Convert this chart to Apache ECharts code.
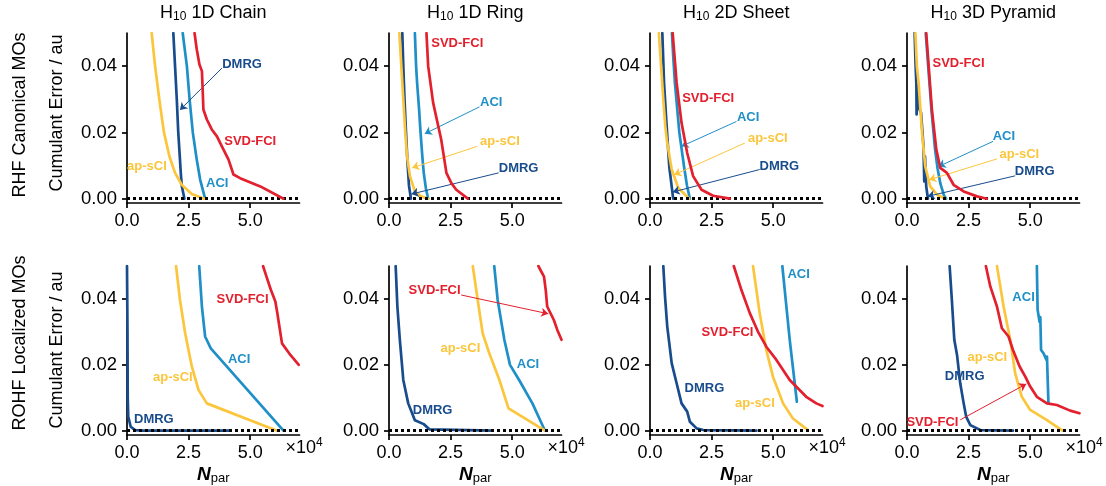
<!DOCTYPE html>
<html>
<head>
<meta charset="utf-8">
<script src="https://cdn.jsdelivr.net/npm/echarts@6.0.0/dist/echarts.min.js"></script>
<style>
  html, body { margin: 0; padding: 0; background: #fff; }
  #chart { width: 1106px; height: 486px; }
</style>
</head>
<body>
<div id="chart"></div>
<script>
// Cumulant error (au) against number of parameters N_par, per geometry and orbital basis.

const panelTitles = ['1D Chain', '1D Ring', '2D Sheet', '3D Pyramid'];
const rowNames = ['RHF Canonical MOs', 'ROHF Localized MOs'];
const methods = ['DMRG', 'ACI', 'ap-sCI', 'SVD-FCI'];
const xTickValues = [0, 2.5, 5];
const yTickValues = [0, 0.02, 0.04];

// ---- RHF canonical MOs ----
const chainRhfDmrg = [[1.88,0.050],[1.95,0.040],[2.02,0.030],[2.08,0.020],[2.14,0.013],[2.18,0.008],[2.22,0.004],[2.33,0]];
const chainRhfAci = [[2.26,0.050],[2.43,0.040],[2.54,0.030],[2.67,0.020],[2.83,0.0118],[2.97,0.0057],[3.17,0]];
const chainRhfApsci = [[1.00,0.050],[1.14,0.040],[1.31,0.030],[1.50,0.020],[1.72,0.0128],[1.95,0.0078],[2.22,0.0042],[2.63,0.0014],[3.13,0]];
const chainRhfSvd = [[2.74,0.050],[2.83,0.0451],[2.94,0.0405],[3.04,0.0385],[3.06,0.035],[3.10,0.0269],[3.24,0.0239],[3.44,0.0209],[3.65,0.0188],[3.85,0.0158],[4.12,0.0118],[4.32,0.0073],[4.59,0.0062],[5.41,0.0037],[6.35,0]];

const ringRhfDmrg = [[0.54,0.050],[0.58,0.040],[0.63,0.030],[0.69,0.020],[0.75,0.011],[0.81,0.004],[0.89,0]];
const ringRhfAci = [[1.05,0.050],[1.10,0.040],[1.14,0.035],[1.22,0.027],[1.28,0.020],[1.35,0.013],[1.41,0.0078],[1.50,0.003],[1.59,0]];
const ringRhfApsci = [[0.42,0.050],[0.50,0.040],[0.58,0.030],[0.66,0.020],[0.73,0.013],[0.85,0.0068],[1.05,0.0022],[1.30,0.0007],[1.59,0]];
const ringRhfSvd = [[1.52,0.050],[1.59,0.040],[1.79,0.029],[2.12,0.0178],[2.33,0.0078],[2.53,0.0047],[2.73,0.0027],[3.20,0]];

const sheetRhfDmrg = [[0.50,0.050],[0.57,0.035],[0.65,0.025],[0.78,0.0098],[0.88,0.0037],[0.94,0]];
const sheetRhfAci = [[0.89,0.050],[0.95,0.042],[1.01,0.035],[1.19,0.020],[1.38,0.0098],[1.50,0.004],[1.62,0]];
const sheetRhfApsci = [[0.36,0.050],[0.45,0.040],[0.54,0.030],[0.62,0.022],[0.68,0.0178],[0.88,0.0088],[1.15,0.0032],[1.59,0]];
const sheetRhfSvd = [[0.92,0.050],[1.08,0.035],[1.28,0.0229],[1.51,0.0138],[1.75,0.0068],[2.09,0.0027],[2.56,0.0009],[3.24,0]];

const pyramidRhfDmrg = [[0.31,0.050],[0.35,0.040],[0.38,0.0345],[0.39,0.0254],[0.43,0.0342],[0.51,0.0269],[0.57,0.0259],[0.62,0.0264],[0.67,0.0158],[0.70,0.0052],[0.73,0.0128],[0.78,0.0037],[0.85,0]];
const pyramidRhfAci = [[0.76,0.050],[0.86,0.040],[0.99,0.027],[1.14,0.0148],[1.24,0.0092],[1.35,0.0047],[1.50,0.001],[1.59,0]];
const pyramidRhfApsci = [[0.34,0.050],[0.40,0.040],[0.47,0.035],[0.61,0.0199],[0.74,0.0098],[0.94,0.0037],[1.22,0.0012],[1.55,0]];
const pyramidRhfSvd = [[0.78,0.050],[0.88,0.040],[1.01,0.0269],[1.19,0.0148],[1.35,0.0093],[1.62,0.0078],[1.89,0.0042],[2.30,0.0022],[2.84,0.0007],[3.24,0]];

// ---- ROHF localized MOs (N_par in units of 10^4) ----
const chainRohfDmrg = [[0.00,0.050],[0.02,0.030],[0.03,0.010],[0.05,0.0043],[0.15,0.0012],[0.33,0.0002],[0.60,0],[4.20,0]];
const chainRohfAci = [[2.93,0.050],[3.04,0.0377],[3.17,0.0286],[3.40,0.025],[6.35,0]];
const chainRohfApsci = [[1.99,0.050],[2.15,0.0397],[2.36,0.0296],[2.63,0.0195],[2.90,0.0124],[3.24,0.0083],[6.09,0]];
const chainRohfSvd = [[5.52,0.050],[5.68,0.0463],[5.84,0.0427],[6.02,0.0392],[6.09,0.0362],[6.29,0.0265],[6.63,0.023],[6.97,0.020]];

const ringRohfDmrg = [[0.27,0.050],[0.34,0.0377],[0.44,0.0276],[0.58,0.0154],[0.78,0.0083],[1.05,0.0032],[1.41,0.002],[1.65,0.0004],[1.72,0],[4.21,0]];
const ringRohfAci = [[4.27,0.050],[4.41,0.0397],[4.68,0.0276],[4.91,0.020],[5.28,0.0154],[5.82,0.0083],[6.33,0]];
const ringRohfApsci = [[3.40,0.050],[3.60,0.0397],[3.80,0.0296],[4.07,0.0235],[4.48,0.0154],[4.85,0.0068],[6.33,0]];
const ringRohfSvd = [[6.06,0.050],[6.29,0.0468],[6.36,0.0427],[6.42,0.0377],[6.69,0.0336],[6.83,0.0306],[7.00,0.0276]];

const sheetRohfDmrg = [[0.54,0.050],[0.61,0.0407],[0.70,0.0316],[0.88,0.0205],[1.08,0.0144],[1.28,0.0083],[1.51,0.0058],[1.62,0.0027],[1.89,0.0007],[2.16,0.0002],[4.32,0]];
const sheetRohfAci = [[5.37,0.050],[5.67,0.0276],[5.96,0.0088]];
const sheetRohfApsci = [[4.18,0.050],[4.45,0.0357],[4.72,0.0245],[4.99,0.0164],[5.40,0.0083],[5.80,0.0037],[6.41,0.0002]];
const sheetRohfSvd = [[3.40,0.050],[3.71,0.0427],[4.05,0.0357],[4.38,0.0301],[4.72,0.0255],[5.13,0.0215],[5.67,0.0154],[6.34,0.0103],[6.75,0.0083],[7.00,0.0075]];

const pyramidRohfDmrg = [[1.73,0.050],[1.82,0.0397],[1.92,0.0276],[2.03,0.023],[2.16,0.0144],[2.30,0.0083],[2.40,0.0043],[2.57,0.0017],[2.97,0.0002],[4.30,0]];
const pyramidRohfAci = [[5.27,0.050],[5.30,0.0367],[5.38,0.033],[5.41,0.0345],[5.44,0.0245],[5.54,0.0235],[5.66,0.0215],[5.68,0.0225],[5.74,0.0083]];
const pyramidRohfApsci = [[3.65,0.050],[3.92,0.0377],[4.19,0.0276],[4.39,0.0174],[4.66,0.0103],[5.00,0.0063],[5.68,0.0032],[6.31,0]];
const pyramidRohfSvd = [[3.20,0.050],[3.38,0.0438],[3.65,0.0377],[3.85,0.0311],[4.12,0.0286],[4.30,0.0245],[4.57,0.0195],[4.80,0.0164],[5.00,0.0134],[5.27,0.0103],[5.68,0.0083],[6.08,0.0078],[6.62,0.0061],[7.00,0.0053]];

// ---- method labels (label centre, optional leader arrow), in axis units ----
const chainRhfNotes = [
  {m:'DMRG', at:[4.67,0.0404], from:[3.85,0.0394], to:[2.15,0.0268]},
  {m:'SVD-FCI', at:[5.00,0.0173]}, {m:'ACI', at:[3.66,0.0047]}, {m:'ap-sCI', at:[0.81,0.0096]}];
const ringRhfNotes = [
  {m:'SVD-FCI', at:[2.77,0.0468]},
  {m:'ACI', at:[4.15,0.0292], from:[3.67,0.0277], to:[1.45,0.0196]},
  {m:'ap-sCI', at:[4.50,0.0173], from:[3.58,0.0158], to:[0.94,0.0093]},
  {m:'DMRG', at:[5.26,0.0090], from:[4.45,0.0078], to:[0.91,0.0014]}];
const sheetRhfNotes = [
  {m:'SVD-FCI', at:[2.36,0.0304]},
  {m:'ACI', at:[3.98,0.0246], from:[3.51,0.0233], to:[1.28,0.0158]},
  {m:'ap-sCI', at:[4.78,0.0183], from:[3.85,0.0168], to:[0.98,0.0072]},
  {m:'DMRG', at:[5.25,0.0097], from:[4.45,0.0088], to:[0.92,0.0020]}];
const pyramidRhfNotes = [
  {m:'SVD-FCI', at:[2.09,0.0409]},
  {m:'ACI', at:[3.93,0.0188], from:[3.49,0.0173], to:[1.28,0.0097]},
  {m:'ap-sCI', at:[4.56,0.0133], from:[3.65,0.0120], to:[0.90,0.0057]},
  {m:'DMRG', at:[5.18,0.0082], from:[4.39,0.0069], to:[0.84,0.0007]}];
const chainRohfNotes = [
  {m:'SVD-FCI', at:[4.69,0.0399]}, {m:'ACI', at:[4.55,0.0215]},
  {m:'ap-sCI', at:[1.86,0.0161]}, {m:'DMRG', at:[1.09,0.0035]}];
const ringRohfNotes = [
  {m:'SVD-FCI', at:[1.85,0.0427], from:[2.93,0.0412], to:[6.46,0.0355]},
  {m:'ap-sCI', at:[2.90,0.0250]}, {m:'ACI', at:[5.64,0.0200]}, {m:'DMRG', at:[1.77,0.0063]}];
const sheetRohfNotes = [
  {m:'ACI', at:[6.03,0.0473]}, {m:'SVD-FCI', at:[3.14,0.0298]},
  {m:'DMRG', at:[2.21,0.0129]}, {m:'ap-sCI', at:[4.26,0.0083]}];
const pyramidRohfNotes = [
  {m:'ACI', at:[4.73,0.0405]}, {m:'ap-sCI', at:[3.26,0.0223]}, {m:'DMRG', at:[2.34,0.0164]},
  {m:'SVD-FCI', at:[1.03,0.0024], from:[2.16,0.0033], to:[4.84,0.0142]}];

const panels = [
  {row:0, col:0, lines:[chainRhfDmrg, chainRhfAci, chainRhfApsci, chainRhfSvd], notes:chainRhfNotes},
  {row:0, col:1, lines:[ringRhfDmrg, ringRhfAci, ringRhfApsci, ringRhfSvd], notes:ringRhfNotes},
  {row:0, col:2, lines:[sheetRhfDmrg, sheetRhfAci, sheetRhfApsci, sheetRhfSvd], notes:sheetRhfNotes},
  {row:0, col:3, lines:[pyramidRhfDmrg, pyramidRhfAci, pyramidRhfApsci, pyramidRhfSvd], notes:pyramidRhfNotes},
  {row:1, col:0, lines:[chainRohfDmrg, chainRohfAci, chainRohfApsci, chainRohfSvd], notes:chainRohfNotes},
  {row:1, col:1, lines:[ringRohfDmrg, ringRohfAci, ringRohfApsci, ringRohfSvd], notes:ringRohfNotes},
  {row:1, col:2, lines:[sheetRohfDmrg, sheetRohfAci, sheetRohfApsci, sheetRohfSvd], notes:sheetRohfNotes},
  {row:1, col:3, lines:[pyramidRohfDmrg, pyramidRohfAci, pyramidRohfApsci, pyramidRohfSvd], notes:pyramidRohfNotes}
];

// ---- styling and layout ----
const FONT = '"Liberation Sans", Arial, Helvetica, sans-serif';
const COLORS = {'DMRG':'#184c8c', 'ACI':'#1f8fc8', 'ap-sCI':'#fbc63c', 'SVD-FCI':'#e3202e'};
const colLeft = [127, 389, 650, 907];
const gridWidth = 172.5;
const rowTop = [33, 266];
const rowHeight = [170, 169];
const xRange = [0, 7];
const yRange = [-0.0013, 0.05];

const grid = [], xAxis = [], yAxis = [], series = [], title = [], graphic = [];

panels.forEach((p, i) => {
  grid.push({left: colLeft[p.col], top: rowTop[p.row], width: gridWidth, height: rowHeight[p.row]});

  xAxis.push({
    gridIndex: i, type: 'value', min: xRange[0], max: xRange[1],
    axisLine: {show: true, onZero: false, lineStyle: {color: '#000', width: 1.7}},
    axisTick: {show: true, length: 5, customValues: xTickValues, lineStyle: {color: '#000', width: 1.7}},
    axisLabel: {show: true, customValues: xTickValues, formatter: v => v.toFixed(1),
                margin: 9, fontSize: 18, color: '#000', fontFamily: FONT},
    splitLine: {show: false},
    name: p.row === 1 ? '{n|N}{s|par}' : '',
    nameLocation: 'middle', nameGap: 30,
    nameTextStyle: {rich: {
      n: {fontSize: 19, fontStyle: 'italic', fontWeight: 'bold', fontFamily: FONT, color: '#000', lineHeight: 20},
      s: {fontSize: 13, fontFamily: FONT, color: '#000', verticalAlign: 'bottom', lineHeight: 10}
    }}
  });

  yAxis.push({
    gridIndex: i, type: 'value', min: yRange[0], max: yRange[1],
    axisLine: {show: true, onZero: false, lineStyle: {color: '#000', width: 1.7}},
    axisTick: {show: true, length: 5, customValues: yTickValues, lineStyle: {color: '#000', width: 1.7}},
    axisLabel: {show: true, customValues: yTickValues, formatter: v => v.toFixed(2),
                margin: 10, fontSize: 18.5, color: '#000', fontFamily: FONT},
    splitLine: {show: false}
  });

  methods.forEach((m, k) => {
    series.push({
      type: 'line', name: m, xAxisIndex: i, yAxisIndex: i, data: p.lines[k],
      showSymbol: false, symbol: 'none', clip: true, silent: true, z: 2 + k,
      lineStyle: {color: COLORS[m], width: 2.7, cap: 'round', join: 'round'},
      itemStyle: {color: COLORS[m]}
    });
  });

  // dotted reference line at zero error
  series.push({
    type: 'line', xAxisIndex: i, yAxisIndex: i, data: [], silent: true, z: 8,
    markLine: {
      silent: true, symbol: ['none', 'none'], label: {show: false},
      lineStyle: {color: '#000', width: 3, type: [3, 3], cap: 'butt'},
      emphasis: {disabled: true},
      data: [{yAxis: 0}]
    }
  });

  // method labels and leader arrows
  series.push({
    type: 'line', xAxisIndex: i, yAxisIndex: i, data: [], silent: true, z: 9,
    markLine: {
      silent: true, symbol: ['none', 'arrow'], symbolSize: 7, label: {show: false},
      emphasis: {disabled: true},
      data: p.notes.filter(n => n.from).map(n => [
        {coord: n.from, symbol: 'none', lineStyle: {color: COLORS[n.m], width: 1, type: 'solid'}, itemStyle: {color: COLORS[n.m]}},
        {coord: n.to, symbol: 'arrow', symbolSize: 7, itemStyle: {color: COLORS[n.m]}}
      ])
    },
    markPoint: {
      silent: true, symbol: 'rect', symbolSize: 1,
      itemStyle: {color: 'rgba(0,0,0,0)'},
      emphasis: {disabled: true},
      label: {show: true, position: 'inside', formatter: '{b}', fontSize: 13, fontWeight: 'bold', fontFamily: FONT},
      data: p.notes.map(n => ({name: n.m, coord: n.at, label: {color: COLORS[n.m]}}))
    }
  });

  if (p.row === 0) {
    title.push({
      text: '{h|H}{s|10}{h| ' + panelTitles[p.col] + '}',
      left: colLeft[p.col] + gridWidth / 2, top: 3, textAlign: 'center', padding: 0,
      textStyle: {fontWeight: 'normal', rich: {
        h: {fontSize: 18, fontWeight: 'normal', fontFamily: FONT, color: '#000', lineHeight: 20},
        s: {fontSize: 12, fontWeight: 'normal', fontFamily: FONT, color: '#000', verticalAlign: 'bottom', lineHeight: 10}
      }}
    });
  } else {
    graphic.push({
      type: 'text', x: colLeft[p.col] + gridWidth - 14, y: 437, silent: true,
      style: {
        text: '{a|×10}{b|4}', align: 'left', verticalAlign: 'top',
        rich: {
          a: {fontSize: 18, fontFamily: FONT, fill: '#000', lineHeight: 20, verticalAlign: 'bottom'},
          b: {fontSize: 12, fontFamily: FONT, fill: '#000', lineHeight: 12, verticalAlign: 'top'}
        }
      }
    });
  }
});

// row captions and y-axis name
const rowCentre = [115, 343];
const nameCentre = [113, 350];
rowNames.forEach((t, r) => {
  graphic.push({
    type: 'text', x: 20, y: rowCentre[r], rotation: Math.PI / 2, silent: true,
    style: {text: t, font: '18px ' + FONT, fill: '#000', align: 'center', verticalAlign: 'middle'}
  });
  graphic.push({
    type: 'text', x: 57, y: nameCentre[r], rotation: Math.PI / 2, silent: true,
    style: {text: 'Cumulant Error / au', font: '18px ' + FONT, fill: '#000', align: 'center', verticalAlign: 'middle'}
  });
});

const chart = echarts.init(document.getElementById('chart'), null, {renderer: 'canvas'});
chart.setOption({
  animation: false,
  backgroundColor: '#fff',
  title, grid, xAxis, yAxis, series, graphic
});
</script>
</body>
</html>
